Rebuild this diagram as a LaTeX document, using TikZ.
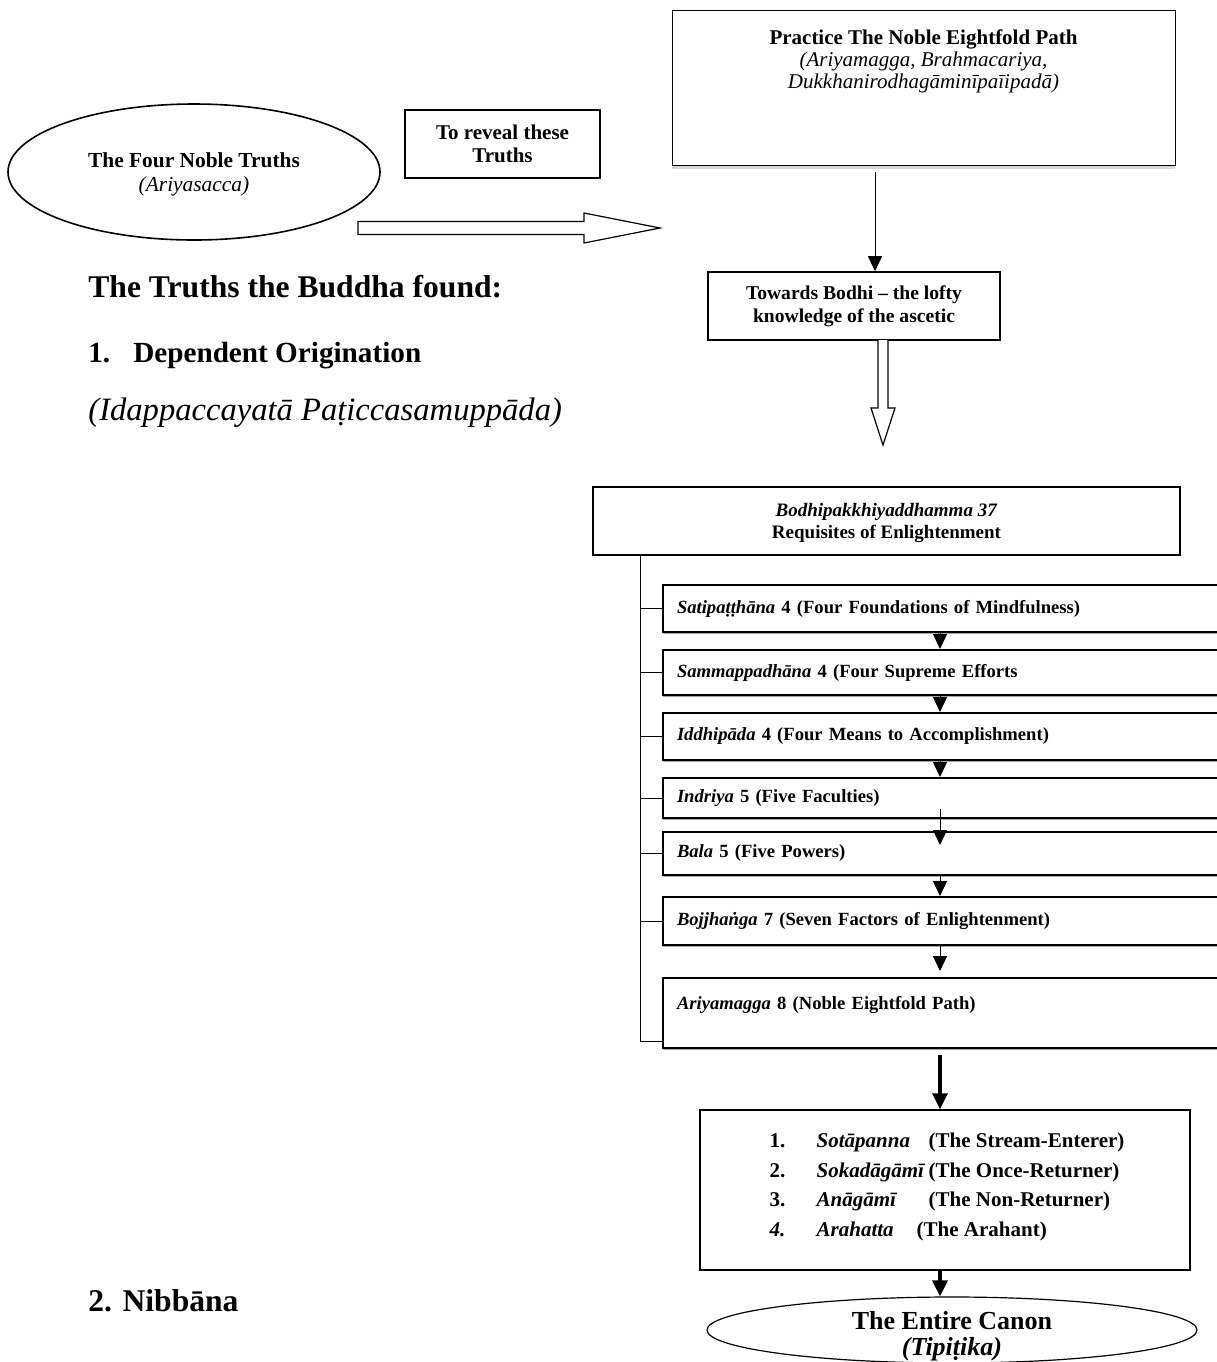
\documentclass[tikz,border=0pt]{standalone}
\usepackage{fontspec}
\setmainfont{Liberation Serif}
\usetikzlibrary{positioning, arrows.meta, shapes.geometric, calc, shadows}

\tikzset{
  plainbox/.style={draw, line width=0.8pt, fill=white, align=center, inner sep=0pt},
  oval/.style={draw, ellipse, line width=0.6pt, align=center, inner sep=0pt},
  rowbox/.style={draw, line width=1pt, fill=white, anchor=west, minimum width=289pt,
    text width=275pt, align=left, inner xsep=7pt, inner ysep=0pt,
    font=\fontsize{9.3}{11}\selectfont\bfseries,
    drop shadow={shadow xshift=0pt, shadow yshift=-1pt, fill=gray!70, opacity=1}},
  steparrow/.style={-{Triangle[width=7pt,length=7.5pt]}, line width=0.5pt},
  boldarrow/.style={-{Triangle[width=7.5pt,length=8pt]}, line width=1.6pt},
  hollow/.style={draw, line width=0.6pt, fill=white},
  spine/.style={line width=0.5pt},
  heading/.style={anchor=west, inner sep=0pt, font=\fontsize{15.8}{18}\selectfont\bfseries},
}

\begin{document}
\begin{tikzpicture}[x=0.5pt, y=-0.5pt]
\useasboundingbox (0,0) rectangle (1217,1362);
\clip (0,0) rectangle (1217,1362);

\node[oval, line width=0.8pt, minimum width=186pt, minimum height=68pt, text depth=-3pt, font=\fontsize{10.7}{12}\selectfont] (truths) at (194,172) {\textbf{The Four Noble Truths}\\\textit{(Ariyasacca)}};
\node[plainbox, minimum width=97.5pt, minimum height=34pt, font=\fontsize{10.5}{11.5}\selectfont\bfseries] (reveal) at (502.5,144) {To reveal these\\Truths};

\node[plainbox, line width=0.5pt, minimum width=251.5pt, minimum height=77.5pt,
  drop shadow={shadow xshift=0pt, shadow yshift=-2pt, fill=gray!60}] (practice) at (923.5,87.5) {};
\node[below=10pt of practice.north, align=center, inner sep=0pt, font=\fontsize{10.5}{11}\selectfont] (practicetext) {\textbf{Practice The Noble Eightfold Path}\\\textit{(Ariyamagga, Brahmacariya,}\\\textit{Dukkhanirodhagāminīpaīipadā)}};

\node[plainbox, minimum width=146pt, minimum height=34pt, font=\fontsize{9.8}{11.5}\selectfont\bfseries] (towards) at (854,306) {Towards Bodhi -- the lofty\\knowledge of the ascetic};

\coordinate (revealtail) at (358,228);
\draw[hollow] (revealtail) ++(0,-6.5) -- ++(226,0) -- ++(0,-8.5) -- ++(76,15) -- ++(-76,15) -- ++(0,-8.5) -- ++(-226,0) -- cycle;

\coordinate (pathx) at (875,172);
\draw[steparrow] (pathx) -- (pathx |- towards.north);

\coordinate (bodhitail) at (883,340);
\draw[hollow] (bodhitail) ++(-5,0) -- ++(0,68) -- ++(-7,0) -- ++(12,37) -- ++(12,-37) -- ++(-7,0) -- ++(0,-68);

\node[heading] (found) at (88,287) {The Truths the Buddha found:};
\node[heading, font=\fontsize{14.6}{17}\selectfont\bfseries] (dependent) at (88,356) {1.\hspace{11.5pt}Dependent Origination};
\node[heading, font=\fontsize{16.3}{18}\selectfont\itshape] (idappa) at (88,413) {(Idappaccayatā Paṭiccasamuppāda)};
\node[heading] (nibbana) at (88,1301) {2. Nibbāna};

\node[plainbox, line width=0.9pt, minimum width=293.5pt, minimum height=34pt, text depth=-4pt, font=\fontsize{9.5}{11}\selectfont\bfseries] (bodhi) at (886.5,521) {\textit{Bodhipakkhiyaddhamma 37}\\Requisites of Enlightenment};

\node[rowbox, minimum height=23.5pt] (sati) at (662,608.5) {\textit{Satipaṭṭhāna} 4 (Four Foundations of Mindfulness)};
\node[rowbox, minimum height=22.5pt] (samma) at (662,672.5) {\textit{Sammappadhāna} 4 (Four Supreme Efforts};
\node[rowbox, minimum height=23.5pt] (iddhi) at (662,736.5) {\textit{Iddhipāda} 4 (Four Means to Accomplishment)};
\node[rowbox, minimum height=20pt] (indriya) at (662,798) {\textit{Indriya} 5 (Five Faculties)};
\node[rowbox, minimum height=21.5pt] (bala) at (662,853.5) {\textit{Bala} 5 (Five Powers)};
\node[rowbox, minimum height=24pt] (bojjh) at (662,921) {\textit{Bojjhaṅga} 7 (Seven Factors of Enlightenment)};
\node[rowbox, minimum height=35pt, text depth=10pt] (ariya) at (662,1013) {\textit{Ariyamagga} 8 (Noble Eightfold Path)};

\coordinate (spinex) at (640,0);
\draw[spine] (bodhi.south -| spinex) |- ($(ariya.south west)+(0,-8)$);
\draw[spine] (sati.west -| spinex) -- (sati.west);
\draw[spine] (samma.west -| spinex) -- (samma.west);
\draw[spine] (iddhi.west -| spinex) -- (iddhi.west);
\draw[spine] (indriya.west -| spinex) -- (indriya.west);
\draw[spine] (bala.west -| spinex) -- (bala.west);
\draw[spine] (bojjh.west -| spinex) -- (bojjh.west);

\node[plainbox, line width=0.7pt, minimum width=245pt, minimum height=80pt] (ranks) at (945,1190) {};
\node[right=35pt of ranks.west, yshift=2pt, inner sep=0pt, font=\fontsize{10.5}{14.75}\selectfont\bfseries] (ranklist) {\begin{tabular}{@{}p{23.5pt}@{}l@{}}
1. & \makebox[56pt][l]{\textit{Sotāpanna}}(The Stream-Enterer)\\
2. & \makebox[56pt][l]{\textit{Sokadāgāmī}}(The Once-Returner)\\
3. & \makebox[56pt][l]{\textit{Anāgāmī}}(The Non-Returner)\\
\textit{4.} & \makebox[50pt][l]{\textit{Arahatta}}(The Arahant)
\end{tabular}};

\node[oval, minimum width=245pt, minimum height=33pt] (canon) at (952,1330) {};
\node[align=center, inner sep=0pt, yshift=-3pt, font=\fontsize{13}{13}\selectfont\bfseries] (canontext) at (canon.center) {The Entire Canon\\\textit{(Tipiṭika)}};

\coordinate (flowx) at (940,0);
\draw[steparrow] (sati.south -| flowx) -- (samma.north -| flowx);
\draw[steparrow] (samma.south -| flowx) -- (iddhi.north -| flowx);
\draw[steparrow] (iddhi.south -| flowx) -- (indriya.north -| flowx);
\draw[steparrow] ($(indriya.south -| flowx)+(0,-10)$) -- ($(bala.north -| flowx)+(0,14)$);
\draw[steparrow] (bala.south -| flowx) -- (bojjh.north -| flowx);
\draw[steparrow] (bojjh.south -| flowx) -- ($(ariya.north -| flowx)+(0,-6)$);
\draw[boldarrow] ($(ariya.south -| flowx)+(0,6)$) -- (ranks.north -| flowx);
\draw[boldarrow] (ranks.south -| flowx) -- (canon.north -| flowx);

\end{tikzpicture}
\end{document}
